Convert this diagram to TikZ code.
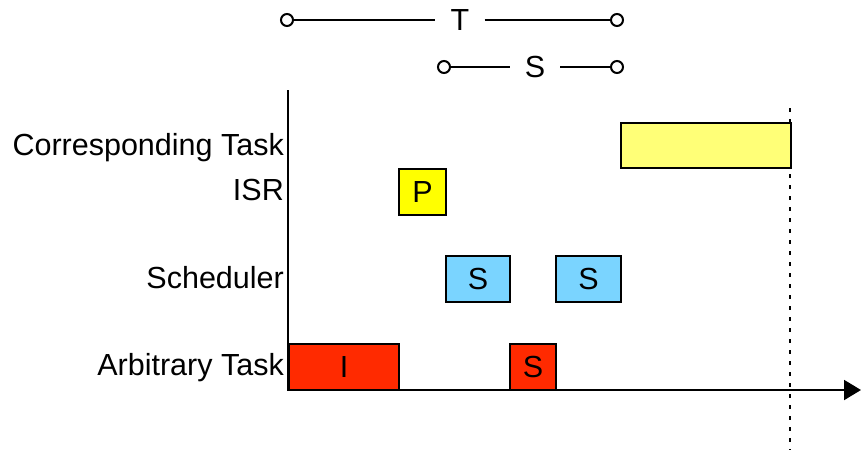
\documentclass[tikz,border=0pt]{standalone}
\usepackage{fontspec}
\setmainfont{Liberation Sans}
\usetikzlibrary{arrows.meta}
\definecolor{lightyel}{HTML}{FFFF77}
\definecolor{isryel}{HTML}{FFFF00}
\definecolor{schblue}{HTML}{7AD4FF}
\definecolor{taskred}{HTML}{FF2A00}
\begin{document}
\begin{tikzpicture}[x=1pt,y=-1pt,
  every node/.style={font=\fontsize{30.5}{36}\selectfont},
  box/.style={draw, line width=2pt, inner sep=0pt, anchor=north west},
  endpt/.style={draw, circle, line width=2pt, fill=white, minimum size=12pt, inner sep=0pt},
  span/.style={inner sep=15pt},
  lbl/.style={anchor=base east, inner sep=0pt},
  conn/.style={line width=2pt}
]
\useasboundingbox (0,0) rectangle (861,453);
% time spans
\node[endpt] (t1) at (287,20) {};
\node[endpt] (t2) at (617,20) {};
\node[span] (tl) at (460,20) {T};
\draw[conn] (t1) -- (tl);
\draw[conn] (tl) -- (t2);
\node[endpt] (s1) at (444,67) {};
\node[endpt] (s2) at (617,67) {};
\node[span] (sl) at (535,67) {S};
\draw[conn] (s1) -- (sl);
\draw[conn] (sl) -- (s2);
% axes
\coordinate (ytop) at (288,90);
\coordinate (xend) at (861,390);
\draw[conn, -{Triangle[length=17pt,width=20pt]}] (ytop) |- (xend);
% dotted deadline
\coordinate (d1) at (790,108);
\coordinate (d2) at (790,450);
\draw[line width=2pt, dash pattern=on 3.5pt off 7.5pt] (d1) -- (d2);
% labels
\node[lbl] (lc) at (284,155) {Corresponding Task};
\node[lbl] (li) at (284,200) {ISR};
\node[lbl] (ls) at (284,288) {Scheduler};
\node[lbl] (la) at (284,375) {Arbitrary Task};
% boxes
\node[box, fill=lightyel, minimum width=170pt, minimum height=45pt] (ct) at (620,122) {};
\node[box, fill=isryel, minimum width=47pt, minimum height=46pt] (p) at (398,168) {P};
\node[box, fill=schblue, minimum width=64pt, minimum height=46pt] (s1b) at (445,255) {S};
\node[box, fill=schblue, minimum width=65pt, minimum height=46pt] (s2b) at (555,255) {S};
\node[box, fill=taskred, minimum width=110pt, minimum height=46pt] (ib) at (288,343) {I};
\node[box, fill=taskred, minimum width=46pt, minimum height=46pt] (sab) at (509,343) {S};
\end{tikzpicture}
\end{document}
